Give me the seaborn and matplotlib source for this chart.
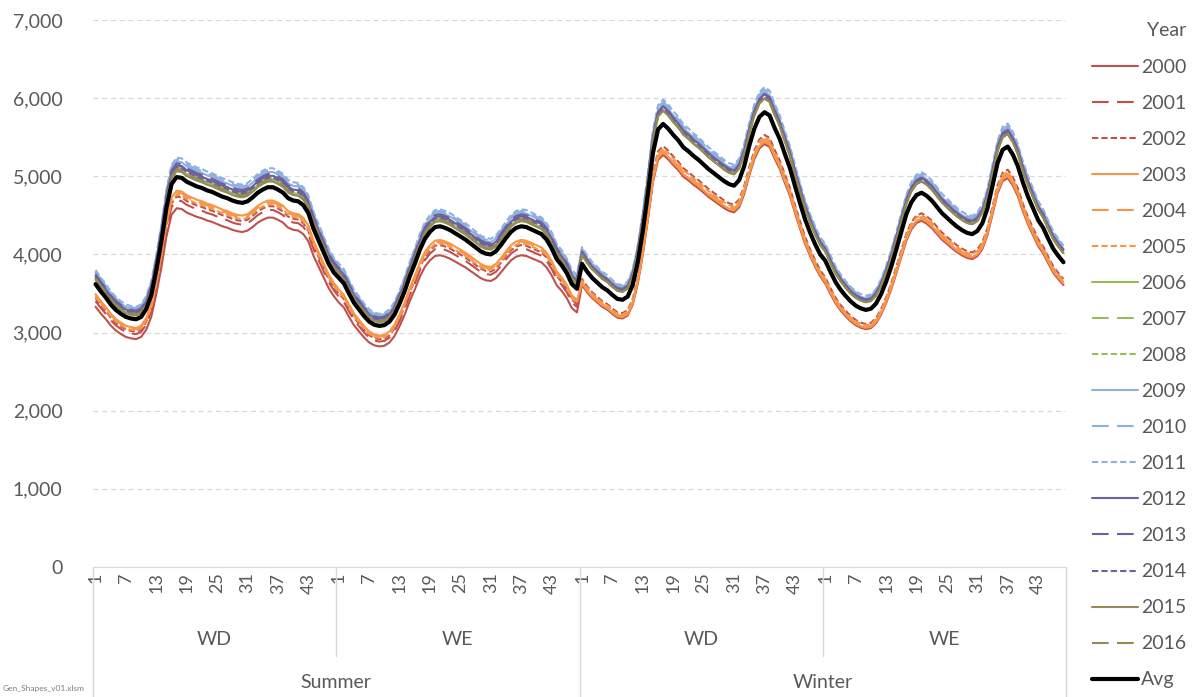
import pandas as pd
import matplotlib.pyplot as plt
import matplotlib.transforms as mtransforms
from matplotlib.lines import Line2D
import seaborn as sns

# Categories: season -> day type -> half-hour period (1..48)
seasons = ["Summer", "Winter"]
day_types = ["WD", "WE"]
periods = list(range(1, 49))
years = [str(y) for y in range(2000, 2017)]

# Avg profile, one list per block
avg_summer_wd = [3620, 3530, 3450, 3360, 3290, 3240, 3200, 3180, 3170, 3200, 3300, 3480,
                 3800, 4170, 4600, 4900, 4990, 4980, 4930, 4900, 4870, 4850, 4820, 4800,
                 4770, 4740, 4720, 4690, 4670, 4660, 4680, 4730, 4790, 4830, 4860, 4860,
                 4830, 4790, 4720, 4690, 4680, 4630, 4530, 4330, 4180, 4030, 3880, 3770]
avg_summer_we = [3700, 3630, 3500, 3380, 3295, 3210, 3140, 3100, 3085, 3095, 3140, 3230,
                 3370, 3530, 3720, 3880, 4060, 4200, 4290, 4350, 4360, 4340, 4310, 4270,
                 4230, 4190, 4140, 4090, 4040, 4010, 4000, 4040, 4120, 4210, 4290, 4340,
                 4360, 4350, 4320, 4290, 4260, 4190, 4080, 3940, 3860, 3760, 3620, 3560]
avg_winter_wd = [3880, 3780, 3700, 3640, 3580, 3540, 3480, 3430, 3420, 3460, 3610, 3900,
                 4300, 4780, 5300, 5600, 5670, 5610, 5530, 5460, 5370, 5320, 5260, 5210,
                 5150, 5090, 5040, 4990, 4940, 4900, 4880, 4950, 5130, 5390, 5610, 5760,
                 5820, 5780, 5620, 5480, 5290, 5110, 4880, 4660, 4450, 4280, 4130, 4000]
avg_winter_we = [3920, 3780, 3650, 3550, 3470, 3400, 3345, 3310, 3290, 3305, 3370, 3490,
                 3650, 3840, 4060, 4290, 4515, 4670, 4760, 4790, 4750, 4690, 4610, 4530,
                 4470, 4410, 4355, 4310, 4275, 4260, 4300, 4400, 4590, 4880, 5170, 5340,
                 5380, 5280, 5130, 4920, 4740, 4590, 4440, 4340, 4200, 4070, 3980, 3900]

# Each year's level relative to Avg, read per block (2000 .. 2016)
ratio_summer_wd = [0.920, 0.940, 0.950, 0.965, 0.960, 0.955, 1.020, 1.025, 1.030,
                   1.040, 1.045, 1.050, 1.030, 1.035, 1.025, 1.015, 1.020]
ratio_summer_we = [0.915, 0.935, 0.945, 0.960, 0.955, 0.950, 1.020, 1.025, 1.030,
                   1.040, 1.045, 1.050, 1.030, 1.035, 1.025, 1.015, 1.020]
ratio_winter_wd = [0.930, 0.935, 0.950, 0.935, 0.940, 0.945, 1.030, 1.035, 1.040,
                   1.045, 1.050, 1.055, 1.040, 1.040, 1.035, 1.030, 1.030]
ratio_winter_we = [0.925, 0.930, 0.945, 0.930, 0.935, 0.940, 1.030, 1.035, 1.040,
                   1.045, 1.050, 1.055, 1.040, 1.040, 1.035, 1.030, 1.030]

blocks = [(avg_summer_wd, ratio_summer_wd), (avg_summer_we, ratio_summer_we),
          (avg_winter_wd, ratio_winter_wd), (avg_winter_we, ratio_winter_we)]

rows = []
avg_all = []
for b, (avg, ratios) in enumerate(blocks):
    avg_all += avg
    for j, yr in enumerate(years):
        for k, v in enumerate(avg):
            rows.append({"idx": b * 48 + k, "value": v * ratios[j], "Year": yr})
df = pd.DataFrame(rows)
avg_df = pd.DataFrame({"idx": range(len(avg_all)), "value": avg_all})

# colours / dashes per year (solid, long dash, short dash in each colour group)
group_colors = ["#C0504D", "#F79646", "#9BBB59", "#8DB0DE", "#6E5FA0", "#948A54"]
dash_cycle = ["", (8, 4), (3, 1.5)]
palette = {yr: group_colors[i // 3] for i, yr in enumerate(years)}
dashes = {yr: dash_cycle[i % 3] for i, yr in enumerate(years)}

sns.set_style("white")
plt.rcParams["font.family"] = ["Lato", "DejaVu Sans"]
text_col = "#595959"

fig = plt.figure(figsize=(11.95, 6.97), dpi=100)
ax = fig.add_axes([93 / 1195, 1 - 567 / 697, 973 / 1195, 547 / 697])

sns.lineplot(data=df, x="idx", y="value", hue="Year", style="Year",
             palette=palette, dashes=dashes, linewidth=1.5, legend=False, ax=ax)
sns.lineplot(data=avg_df, x="idx", y="value", color="black", linewidth=3,
             legend=False, ax=ax)

ax.set_xlim(-0.5, 191.5)
ax.set_ylim(0, 7000)
ax.set_yticks(range(0, 7001, 1000))
ax.set_yticklabels([f"{v:,}" for v in range(0, 7001, 1000)])
ax.yaxis.grid(True, color="#D9D9D9", linestyle=(0, (4, 3)), linewidth=0.9)
ax.set_axisbelow(True)

tick_pos = [b * 48 + k for b in range(4) for k in range(0, 48, 6)]
ax.set_xticks(tick_pos)
ax.set_xticklabels([str(periods[k]) for b in range(4) for k in range(0, 48, 6)], rotation=90)
ax.tick_params(axis="x", length=0, pad=4, labelsize=13, colors=text_col)
ax.tick_params(axis="y", length=0, pad=22, labelsize=14, colors=text_col)
ax.set_xlabel("")
ax.set_ylabel("")

for s in ["top", "right", "left"]:
    ax.spines[s].set_visible(False)
ax.spines["bottom"].set_color("#D9D9D9")

# multi-level category axis
trans = mtransforms.blended_transform_factory(ax.transData, ax.transAxes)
for s, season in enumerate(seasons):
    for d, dt in enumerate(day_types):
        c = (s * 2 + d) * 48 + 23.5
        ax.text(c, -0.133, dt, transform=trans, ha="center", va="center",
                fontsize=14, color=text_col)
    ax.text(s * 96 + 47.5, -0.212, season, transform=trans, ha="center", va="center",
            fontsize=14, color=text_col)
for xb in [-0.5, 95.5, 191.5]:
    ax.add_line(Line2D([xb, xb], [0, -0.24], transform=trans, color="#D9D9D9",
                       linewidth=1, clip_on=False))
for xb in [47.5, 143.5]:
    ax.add_line(Line2D([xb, xb], [0, -0.163], transform=trans, color="#D9D9D9",
                       linewidth=1, clip_on=False))

# legend
handles = []
for yr in years:
    d = dashes[yr]
    ls = (0, d) if d else "-"
    handles.append(Line2D([0], [0], color=palette[yr], linewidth=1.5, linestyle=ls))
handles.append(Line2D([0], [0], color="black", linewidth=3))
leg = fig.legend(handles, years + ["Avg"], title="Year", loc="upper left",
                 bbox_to_anchor=(1074 / 1195, 1 - 5 / 697), frameon=False,
                 fontsize=14, title_fontsize=14, handlelength=2.4, handletextpad=0.15,
                 labelspacing=0.98, alignment="right")
for t in leg.get_texts():
    t.set_color(text_col)
leg.get_title().set_color(text_col)

fig.text(0.002, 0.008, "Gen_Shapes_v01.xlsm", fontsize=6, color="#7F7F7F")

fig.savefig("out.png", dpi=100)
